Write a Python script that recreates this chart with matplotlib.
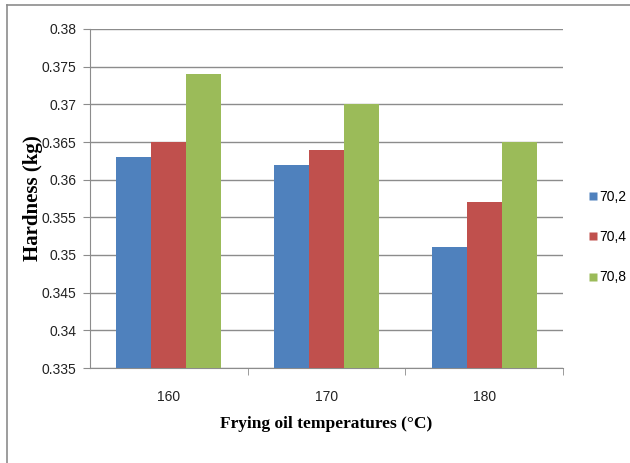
import numpy as np
import matplotlib.pyplot as plt
from matplotlib.lines import Line2D

temps = ['160', '170', '180']
series = ['70,2', '70,4', '70,8']
hard_702 = [0.363, 0.362, 0.351]
hard_704 = [0.365, 0.364, 0.357]
hard_708 = [0.374, 0.370, 0.365]
colors = ['#4F81BD', '#C0504D', '#9BBB59']

tick_font = ['Liberation Sans', 'DejaVu Sans']
label_font = ['Liberation Serif', 'DejaVu Serif']

fig = plt.figure(figsize=(6.3, 4.63), dpi=100)
ax = fig.add_axes([90/630, 95/463, 473/630, 339/463])

ind = np.arange(len(temps))
width = 0.222
for i, vals in enumerate([hard_702, hard_704, hard_708]):
    ax.bar(ind + (i - 1) * width, vals, width, color=colors[i],
           label=series[i], zorder=3, edgecolor='none')

ax.set_xlim(-0.5, 2.5)
ax.set_ylim(0.335, 0.38)
ax.set_yticks(np.arange(0.335, 0.3801, 0.005))
ax.set_yticklabels(['0.335', '0.34', '0.345', '0.35', '0.355', '0.36',
                    '0.365', '0.37', '0.375', '0.38'])
ax.yaxis.grid(True, color='#8c8c8c', linewidth=1.0, zorder=0)

ax.set_xticks(ind)
ax.set_xticklabels(temps)
ax.set_xticks([0.5, 1.5, 2.5], minor=True)
ax.tick_params(axis='x', which='major', length=0, pad=16)
ax.tick_params(axis='x', which='minor', length=5, color='#8c8c8c')
ax.tick_params(axis='y', length=5, color='#8c8c8c', pad=5)
for lab in ax.get_xticklabels() + ax.get_yticklabels():
    lab.set_family(tick_font)
    lab.set_fontsize(10)
    lab.set_color('#222222')

for side in ['top', 'right']:
    ax.spines[side].set_visible(False)
for side in ['left', 'bottom']:
    ax.spines[side].set_color('#8c8c8c')

ax.set_xlabel('Frying oil temperatures (°C)', family=label_font,
              fontweight='bold', fontsize=12.5)
ax.xaxis.set_label_coords(0.5, -(416 - 368) / 339)
ax.set_ylabel('Hardness (kg)', family=label_font, fontweight='bold',
              fontsize=15, va='center')
ax.yaxis.set_label_coords(-(90 - 33) / 473, 0.5)

handles = [Line2D([], [], marker='s', linestyle='none', markersize=6,
                  markerfacecolor=c, markeredgecolor='none') for c in colors]
leg = fig.legend(handles, series, loc='center left',
                 bbox_to_anchor=(576/630, 1 - 237/463), frameon=False,
                 handlelength=0.6, handletextpad=0.15, labelspacing=1.9,
                 prop={'family': tick_font, 'size': 10})

# chart area border (left and top edges)
fig.add_artist(Line2D([7/630, 7/630], [0, 1 - 5/463], transform=fig.transFigure,
                      color='#8c8c8c', linewidth=1.2))
fig.add_artist(Line2D([7/630, 1], [1 - 5/463, 1 - 5/463], transform=fig.transFigure,
                      color='#8c8c8c', linewidth=1.2))

plt.savefig('out.png', dpi=100)
